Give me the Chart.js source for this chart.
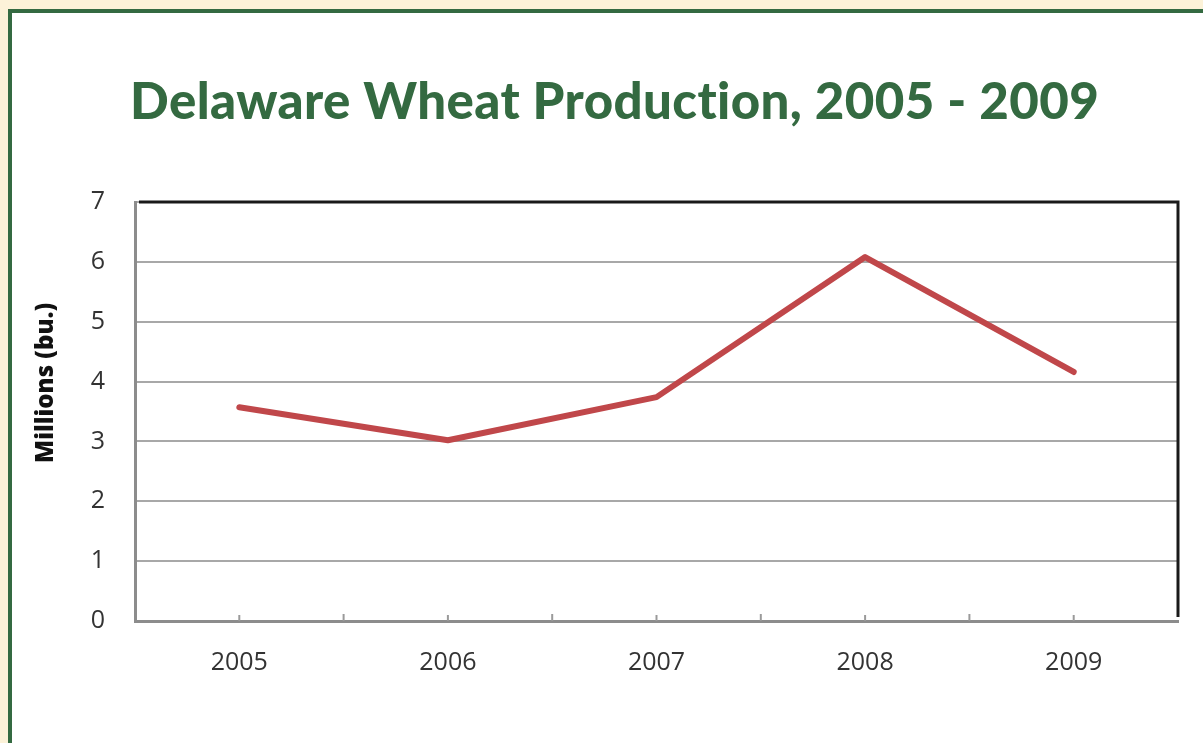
<!DOCTYPE html>
<html>
<head>
<meta charset="utf-8">
<script src="https://cdn.jsdelivr.net/npm/chart.js@4"></script>
<style>
  html, body { margin: 0; padding: 0; }
  body { width: 1203px; height: 743px; background: #fcf2d8; overflow: hidden; position: relative; }
  .frame { position: absolute; left: 8px; top: 9px; width: 1300px; height: 900px;
           border: 4px solid #346a41; background: #fff; }
  #chart { position: absolute; left: 0; top: 0; }
</style>
</head>
<body>
<div class="frame"></div>
<canvas id="chart" width="1203" height="743"></canvas>
<script>
  // values, millions of bushels
  var years = ['2005', '2006', '2007', '2008', '2009'];
  var production = [3.57, 3.02, 3.74, 6.08, 4.16];
  var yTicks = [0, 1, 2, 3, 4, 5, 6, 7];

  var TITLE = 'Delaware Wheat Production, 2005 - 2009';
  var Y_LABEL = 'Millions (bu.)';
  var GREEN = '#346a41';

  // title, y label, black top/right frame and the small inward x ticks
  var decorations = {
    id: 'decorations',
    afterDatasetsDraw: function (chart) {
      var ctx = chart.ctx, area = chart.chartArea, x = chart.scales.x;
      ctx.save();

      // small tick marks at category centres and boundaries
      ctx.strokeStyle = '#9a9a9a';
      ctx.lineWidth = 2;
      for (var i = 0; i < years.length; i++) {
        var c = x.getPixelForValue(i);
        ctx.beginPath(); ctx.moveTo(c, area.bottom); ctx.lineTo(c, area.bottom - 6); ctx.stroke();
        if (i > 0) {
          var b = (c + x.getPixelForValue(i - 1)) / 2;
          ctx.beginPath(); ctx.moveTo(b, area.bottom); ctx.lineTo(b, area.bottom - 7); ctx.stroke();
        }
      }

      ctx.strokeStyle = '#1a1a1a';
      ctx.lineWidth = 3;
      ctx.beginPath();
      ctx.moveTo(area.left + 4, area.top);
      ctx.lineTo(area.right, area.top);
      ctx.lineTo(area.right, area.bottom - 4);
      ctx.stroke();
      ctx.restore();
    },
    afterDraw: function (chart) {
      var ctx = chart.ctx;
      ctx.save();
      ctx.fillStyle = GREEN;
      ctx.font = '900 51px Lato';
      ctx.letterSpacing = '0.4px'; // also keeps the "ti" from joining
      ctx.textAlign = 'left';
      ctx.textBaseline = 'alphabetic';
      ctx.fillText(TITLE, 130, 119);
      ctx.letterSpacing = '0px';

      ctx.translate(46, 383);
      ctx.rotate(-Math.PI / 2);
      ctx.fillStyle = '#111';
      ctx.font = '800 24px "Open Sans"';
      ctx.textAlign = 'center';
      ctx.textBaseline = 'middle';
      ctx.fillText(Y_LABEL, 0, 0);
      ctx.restore();
    }
  };

  new Chart(document.getElementById('chart'), {
    type: 'line',
    data: {
      labels: years,
      datasets: [{
        data: production,
        borderColor: '#c0474a',
        borderWidth: 6,
        borderCapStyle: 'round',
        borderJoinStyle: 'round',
        pointRadius: 0,
        tension: 0
      }]
    },
    options: {
      responsive: false,
      animation: false,
      layout: { padding: { top: 202, right: 25, left: 0, bottom: 0 } },
      plugins: { legend: { display: false }, tooltip: { enabled: false } },
      scales: {
        x: {
          offset: true,
          grid: { display: false },
          border: { color: '#8c8c8c', width: 3 },
          ticks: { color: '#333', font: { family: 'Open Sans', size: 25 }, padding: 19 },
          afterFit: function (s) { s.height = 122; }
        },
        y: {
          min: 0,
          max: 7,
          afterBuildTicks: function (s) { s.ticks = yTicks.map(function (v) { return { value: v }; }); },
          grid: { color: '#a8a8a8', lineWidth: 2, drawTicks: false },
          border: { color: '#8c8c8c', width: 3 },
          ticks: { color: '#333', font: { family: 'Open Sans', size: 25 }, padding: 30 },
          afterFit: function (s) { s.width = 135; }
        }
      }
    },
    plugins: [decorations]
  });
</script>
</body>
</html>
